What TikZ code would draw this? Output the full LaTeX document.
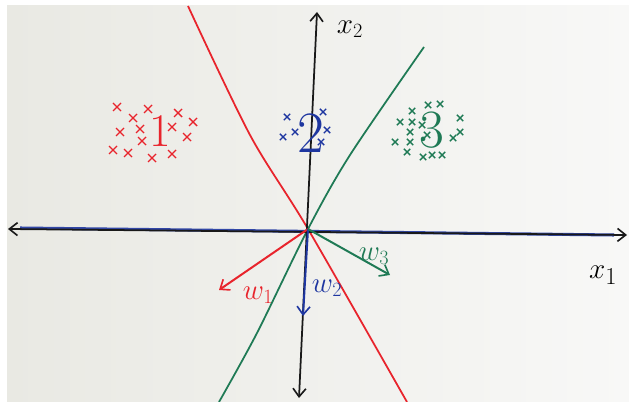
\documentclass[tikz,border=0pt]{standalone}
\usepackage{amsmath}
\usetikzlibrary{arrows.meta}

\definecolor{penred}{HTML}{E8242C}
\definecolor{pengreen}{HTML}{1F7A55}
\definecolor{penblue}{HTML}{1E36A0}
\definecolor{paperleft}{HTML}{E9E9E3}
\definecolor{paperright}{HTML}{F8F8F7}

\begin{document}
\begin{tikzpicture}[
    x=0.03cm, y=-0.03cm,
    barb/.tip={Straight Barb[length=7pt, width=11pt, line width=1.4pt]},
    axis/.style={line width=1.5pt, black!90, barb-barb},
    boundary/.style={line width=1.5pt},
    weight/.style={line width=1.7pt, -barb},
    digit/.style={inner sep=0pt},
    wlabel/.style={inner sep=0pt, font=\fontsize{27}{27}\selectfont},
    xmark/.pic={\draw[line width=1.2pt] (-4,-4) -- (4,4) (-4,4) -- (4,-4);}
]

% paper
\useasboundingbox (0,0) rectangle (629,402);
\fill[white] (0,0) rectangle (629,402);
\fill[left color=paperleft, right color=paperright] (7,6) rectangle (629,402);

% origin and axis ends
\coordinate (O) at (308,229);
\coordinate (xleft) at (8,229);
\coordinate (xright) at (627,235);
\coordinate (ytop) at (317,12);
\coordinate (ybot) at (299,398);

% class boundaries
\draw[boundary, penred] plot[smooth, tension=0.5] coordinates {(188,6) (250,135) (O) (407,402)};
\draw[boundary, pengreen] plot[smooth, tension=0.5] coordinates {(424,47) (350,155) (O) (257,333) (219,402)};

% axes
\draw[line width=2.6pt, penblue, opacity=0.9] (20,228) -- (614,235);
\draw[axis] (xleft) -- (xright);
\draw[axis] (ybot) -- (ytop);
\node[inner sep=0pt, font=\fontsize{30}{30}\selectfont] (lx1) at (603,275) {$x_{1}$};
\node[inner sep=0pt, font=\fontsize{26}{26}\selectfont] (lx2) at (350,29) {$x_{2}$};

% weight vectors
\coordinate (w1) at (219,290);
\coordinate (w2) at (303,316);
\coordinate (w3) at (390,275);
\draw[weight, penred] (O) -- (w1);
\draw[weight, penblue] (O) -- (w2);
\draw[weight, pengreen] (O) -- (w3);
\node[wlabel, penred] (lw1) at (258,295) {$w_{1}$};
\node[wlabel, penblue] (lw2) at (327,288) {$w_{2}$};
\node[wlabel, pengreen] (lw3) at (374,256) {$w_{3}$};

% class 1
\node[digit, penred, font=\fontsize{40}{40}\selectfont] (c1) at (160,131) {1};
\foreach \p in {(117,107),(133,118),(148,109),(178,113),(193,122),(120,132),
                (140,129),(172,127),(187,137),(142,141),(113,150),(128,153),
                (152,158),(172,154)}
    \pic[penred] at \p {xmark};

% class 2
\node[digit, penblue, font=\fontsize{50}{50}\selectfont] (c2) at (311,133) {2};
\foreach \p in {(287,117),(295,132),(283,137),(323,112),(327,130),(321,142)}
    \pic[penblue, scale=0.8] at \p {xmark};

% class 3
\node[digit, pengreen, font=\fontsize{46}{46}\selectfont] (c3) at (432,130) {3};
\foreach \p in {(428,105),(440,104),(412,111),(400,122),(412,122),(422,125),
                (460,118),(410,132),(427,135),(460,132),(453,138),(395,142),
                (410,142),(407,152),(423,157),(432,155),(442,155)}
    \pic[pengreen, scale=0.8] at \p {xmark};

\end{tikzpicture}
\end{document}
